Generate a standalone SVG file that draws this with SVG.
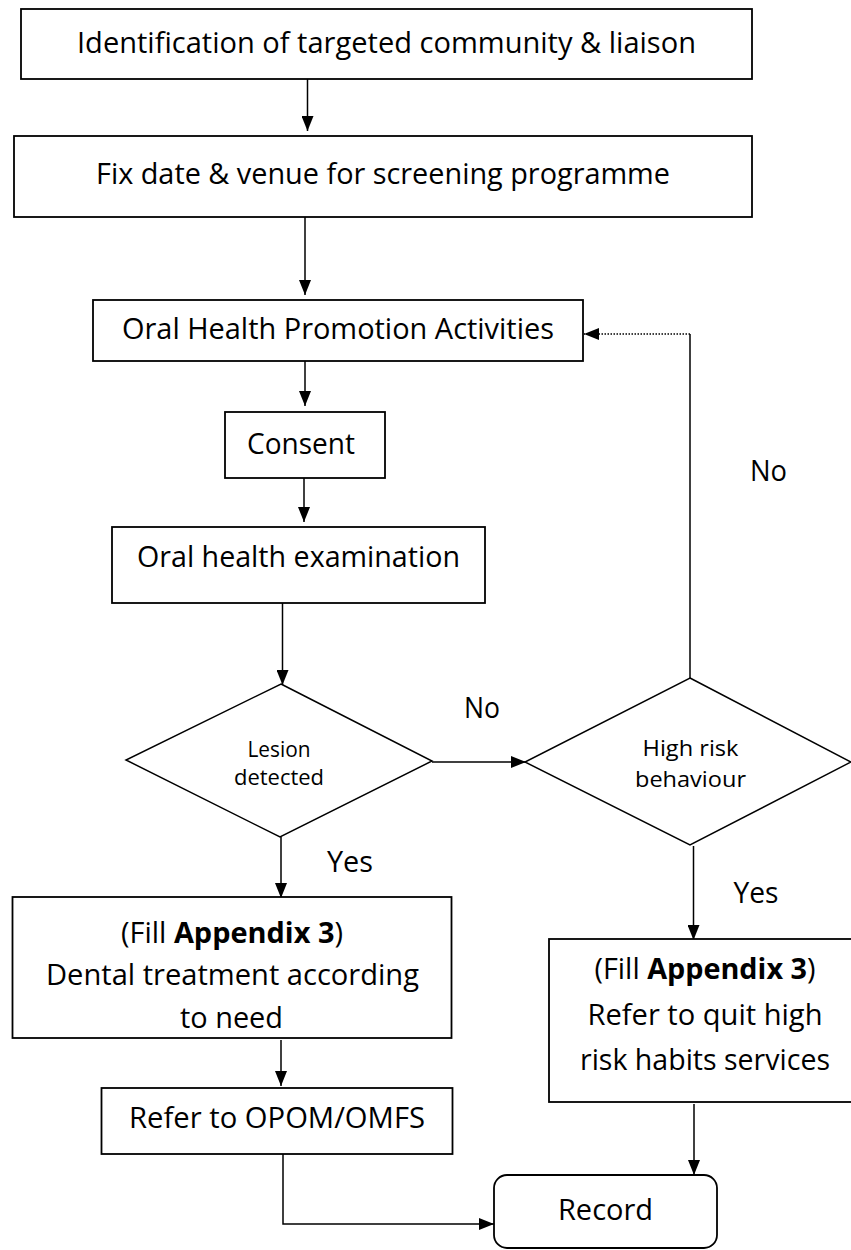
<svg xmlns="http://www.w3.org/2000/svg" width="851" height="1250" viewBox="0 0 851 1250">
  <style>
    .box { fill: #fff; stroke: #000; stroke-width: 1.8; }
    .dia { fill: #fff; stroke: #000; stroke-width: 1.5; }
    .t { font-family: "Open Sans", "Liberation Sans", sans-serif; font-size: 29px; fill: #000; text-anchor: middle; }
    .s { font-size: 22px; }
    .b { font-weight: bold; }
    .lbl { font-family: "Open Sans", "Liberation Sans", sans-serif; font-size: 29px; fill: #000; }
    .c { fill: none; stroke: #000; stroke-width: 1.5; }
    .dot { fill: none; stroke: #000; stroke-width: 1.5; stroke-dasharray: 1.5 1.5; }
  </style>
  <defs>
    <marker id="ah" markerUnits="userSpaceOnUse" markerWidth="15" markerHeight="12" refX="15" refY="6" orient="auto">
      <path d="M0,0 L15,6 L0,12 z" fill="#000"/>
    </marker>
  </defs>
  <rect width="851" height="1250" fill="#fff"/>

  <g id="connectors">
    <line class="c" x1="307.5" y1="79" x2="307.5" y2="131" marker-end="url(#ah)"/>
    <line class="c" x1="305" y1="217" x2="305" y2="295" marker-end="url(#ah)"/>
    <line class="c" x1="305" y1="361" x2="305" y2="406" marker-end="url(#ah)"/>
    <line class="c" x1="304" y1="478" x2="304" y2="522" marker-end="url(#ah)"/>
    <line class="c" x1="282.5" y1="603" x2="282.5" y2="685" marker-end="url(#ah)"/>
    <line class="c" x1="432" y1="762" x2="526" y2="762" marker-end="url(#ah)"/>
    <polyline class="c" points="690,678 690,334"/>
    <line class="dot" x1="690" y1="334" x2="584" y2="334" marker-end="url(#ah)"/>
    <line class="c" x1="281" y1="837" x2="281" y2="898" marker-end="url(#ah)"/>
    <line class="c" x1="693.5" y1="846" x2="693.5" y2="940" marker-end="url(#ah)"/>
    <line class="c" x1="281" y1="1040" x2="281" y2="1086" marker-end="url(#ah)"/>
    <polyline class="c" points="283,1154 283,1224 494,1224" marker-end="url(#ah)"/>
    <line class="c" x1="694" y1="1104" x2="694" y2="1175" marker-end="url(#ah)"/>
  </g>

  <g id="identify">
    <rect class="box" x="21" y="9" width="731" height="70"/>
    <text class="t" x="386.5" y="53" textLength="619" lengthAdjust="spacingAndGlyphs">Identification of targeted community &amp; liaison</text>
  </g>

  <g id="fix-date">
    <rect class="box" x="14" y="136" width="738" height="81"/>
    <text class="t" x="383" y="184" textLength="574" lengthAdjust="spacingAndGlyphs">Fix date &amp; venue for screening programme</text>
  </g>

  <g id="promotion">
    <rect class="box" x="93" y="300" width="490" height="61"/>
    <text class="t" x="338" y="339" textLength="432" lengthAdjust="spacingAndGlyphs">Oral Health Promotion Activities</text>
  </g>

  <g id="consent">
    <rect class="box" x="225" y="412" width="160" height="66"/>
    <text class="t" x="301" y="454" textLength="108" lengthAdjust="spacingAndGlyphs">Consent</text>
  </g>

  <g id="examination">
    <rect class="box" x="112" y="527" width="373" height="76"/>
    <text class="t" x="298.5" y="567" textLength="323" lengthAdjust="spacingAndGlyphs">Oral health examination</text>
  </g>

  <g id="lesion">
    <polygon class="dia" points="281,684 432,761 280,837 126,760"/>
    <text class="t s" x="279" y="757" textLength="63" lengthAdjust="spacingAndGlyphs">Lesion</text>
    <text class="t s" x="279" y="785" textLength="90" lengthAdjust="spacingAndGlyphs">detected</text>
  </g>

  <g id="high-risk">
    <polygon class="dia" points="690,678 851,762 690,845 525,762"/>
    <text class="t s" x="690.5" y="756" textLength="96" lengthAdjust="spacingAndGlyphs">High risk</text>
    <text class="t s" x="690.5" y="787" textLength="111" lengthAdjust="spacingAndGlyphs">behaviour</text>
  </g>

  <g id="dental-treatment">
    <rect class="box" x="12.5" y="897" width="439" height="141"/>
    <text class="t" x="232" y="943" textLength="222" lengthAdjust="spacingAndGlyphs">(Fill <tspan class="b">Appendix 3</tspan>)</text>
    <text class="t" x="232.5" y="985" textLength="373" lengthAdjust="spacingAndGlyphs">Dental treatment according</text>
    <text class="t" x="231.5" y="1028" textLength="103" lengthAdjust="spacingAndGlyphs">to need</text>
  </g>

  <g id="refer-opom">
    <rect class="box" x="101.5" y="1088" width="351" height="66"/>
    <text class="t" x="277" y="1128" textLength="296" lengthAdjust="spacingAndGlyphs">Refer to OPOM/OMFS</text>
  </g>

  <g id="refer-quit">
    <rect class="box" x="549" y="939" width="305" height="163"/>
    <text class="t" x="705" y="979" textLength="221" lengthAdjust="spacingAndGlyphs">(Fill <tspan class="b">Appendix 3</tspan>)</text>
    <text class="t" x="705" y="1025" textLength="235" lengthAdjust="spacingAndGlyphs">Refer to quit high</text>
    <text class="t" x="705" y="1070" textLength="250" lengthAdjust="spacingAndGlyphs">risk habits services</text>
  </g>

  <g id="record">
    <rect class="box" x="494" y="1175" width="223" height="73" rx="13" ry="13"/>
    <text class="t" x="605.5" y="1220" textLength="95" lengthAdjust="spacingAndGlyphs">Record</text>
  </g>

  <g id="labels">
    <text class="lbl" x="464" y="718" textLength="36" lengthAdjust="spacingAndGlyphs">No</text>
    <text class="lbl" x="750" y="481" textLength="37" lengthAdjust="spacingAndGlyphs">No</text>
    <text class="lbl" x="327" y="872" textLength="46" lengthAdjust="spacingAndGlyphs">Yes</text>
    <text class="lbl" x="733.5" y="903" textLength="45" lengthAdjust="spacingAndGlyphs">Yes</text>
  </g>
</svg>
